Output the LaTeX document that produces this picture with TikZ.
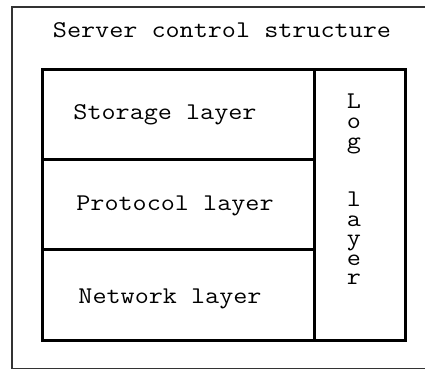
\documentclass[tikz,border=0pt]{standalone}
\usepackage{fontspec}
\setmonofont{Latin Modern Mono}[FakeStretch=1.14]
\usepackage{tikz}

\tikzset{
  frame/.style={rectangle,draw=black!80,line width=1.6bp,inner sep=0pt,anchor=north west},
  layer/.style={rectangle,draw=black,line width=3bp,inner sep=0pt,anchor=north west},
  txt/.style={inner sep=0pt,anchor=base,font=\ttfamily\fontsize{24bp}{20bp}\selectfont}
}

\begin{document}
\begin{tikzpicture}[x=1bp,y=-1bp]
\path[use as bounding box,clip] (0,0) rectangle (425,369);
\path (11,6) node(outer)[frame,minimum width=440bp,minimum height=362bp]{}
(41,68) node(storage)[layer,minimum width=272bp,minimum height=90bp]{}
(41,158) node(protocol)[layer,minimum width=272bp,minimum height=90bp]{}
(41,248) node(network)[layer,minimum width=272bp,minimum height=91bp]{}
(313,68) node(log)[layer,minimum width=91bp,minimum height=271bp]{};
\path (222,37) node(title)[txt]{Server control structure}
(165,119) node(storagetxt)[txt]{Storage layer}
(175,210) node(protocoltxt)[txt]{Protocol layer}
(170,303) node(networktxt)[txt]{Network layer};
% letters of the log layer, one under the other
\foreach \c/\y in {L/108,o/128,g/148,l/206,a/226,y/245,e/265,r/284}
  \path (354,\y) node(log-\c)[txt]{\c};
\end{tikzpicture}
\end{document}
